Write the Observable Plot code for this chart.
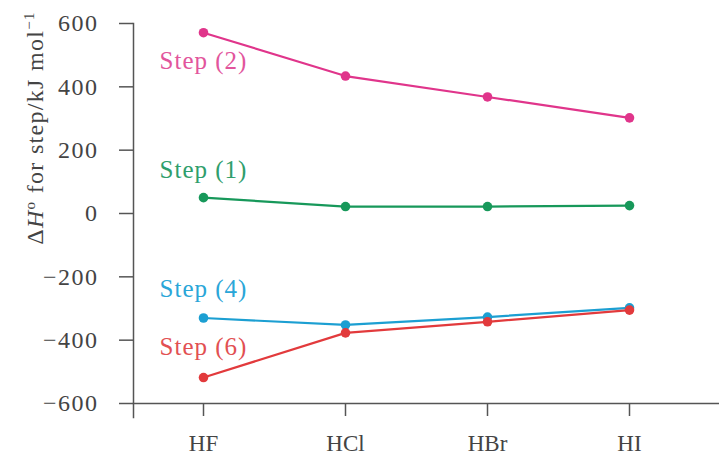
<!DOCTYPE html>
<html>
<head>
<meta charset="utf-8">
<script src="https://cdn.jsdelivr.net/npm/d3@7"></script>
<script src="https://cdn.jsdelivr.net/npm/@observablehq/plot@0.6"></script>
<style>
  html, body { margin: 0; padding: 0; background: #fff; }
  #chart svg { display: block; }
  g[aria-label="y-axis tick label"] text { letter-spacing: 1.5px; }
  g[aria-label="text"] text { letter-spacing: 1px; }
</style>
</head>
<body>
<div id="chart"></div>
<script>
const categories = ["HF", "HCl", "HBr", "HI"];
const step2 = [571, 434, 368, 302];
const step1 = [50, 22, 22, 25];
const step4 = [-330, -352, -327, -298];
const step6 = [-518, -377, -342, -305];
const stepNames = ["Step (2)", "Step (1)", "Step (4)", "Step (6)"];
const stepColors = ["#e0358b", "#17985a", "#1c9fd2", "#e23a3c"];
const labelColors = ["#e2559c", "#2f9e6c", "#2aa6d8", "#e25052"];
const labelY = [483, 136, -237, -420];
const yTicks = [-600, -400, -200, 0, 200, 400, 600];

const series = [step2, step1, step4, step6];
const rows = [];
series.forEach((vals, s) => vals.forEach((v, i) => rows.push({step: stepNames[s], cat: categories[i], value: v})));
const labels = stepNames.map((n, s) => ({step: n, cat: categories[0], value: labelY[s]}));

const chart = Plot.plot({
  width: 719,
  height: 456,
  marginTop: 23,
  marginBottom: 53,
  marginLeft: 133,
  marginRight: 0,
  style: {fontFamily: "Liberation Serif", fontSize: "24px", color: "#444", background: "#fff"},
  x: {type: "point", domain: categories, range: [202, 629], padding: 0},
  y: {domain: [-600, 600]},
  color: {domain: stepNames, range: stepColors},
  marks: [
    Plot.frame({anchor: "left", stroke: "#555", strokeWidth: 1.5, insetBottom: -14}),
    Plot.frame({anchor: "bottom", stroke: "#555", strokeWidth: 1.5}),
    Plot.axisY({ticks: yTicks, tickSize: 14, tickPadding: 21, stroke: "#555", strokeWidth: 1.5, fill: "#444", fontSize: 24, label: null, tickFormat: d => d < 0 ? "\u2212" + Math.abs(d) : String(d)}),
    Plot.axisX({tickSize: 13, tickPadding: 18, stroke: "#555", strokeWidth: 1.5, fill: "#444", fontSize: 23, label: null}),
    Plot.line(rows, {x: "cat", y: "value", z: "step", stroke: "step", strokeWidth: 2.2}),
    Plot.dot(rows, {x: "cat", y: "value", fill: "step", r: 4.8}),
    Plot.text(labels, {x: "cat", y: "value", text: "step", fill: d => labelColors[stepNames.indexOf(d.step)], fontSize: 25, textAnchor: "middle", lineAnchor: "middle"})
  ]
});

const svg = d3.select(chart);
const t = svg.append("text")
  .attr("transform", "translate(43,128) rotate(-90)")
  .attr("text-anchor", "middle")
  .attr("fill", "#444")
  .attr("font-family", "Liberation Serif")
  .attr("font-size", 24)
  .style("letter-spacing", "1.3px");
t.append("tspan").text("\u0394");
t.append("tspan").attr("font-style", "italic").text("H");
t.append("tspan").attr("font-size", 15).attr("dy", -8).text("o");
t.append("tspan").attr("dy", 8).text(" for step/kJ mol");
t.append("tspan").attr("font-size", 15).attr("dy", -9).text("\u22121");

document.getElementById("chart").appendChild(chart);
</script>
</body>
</html>
